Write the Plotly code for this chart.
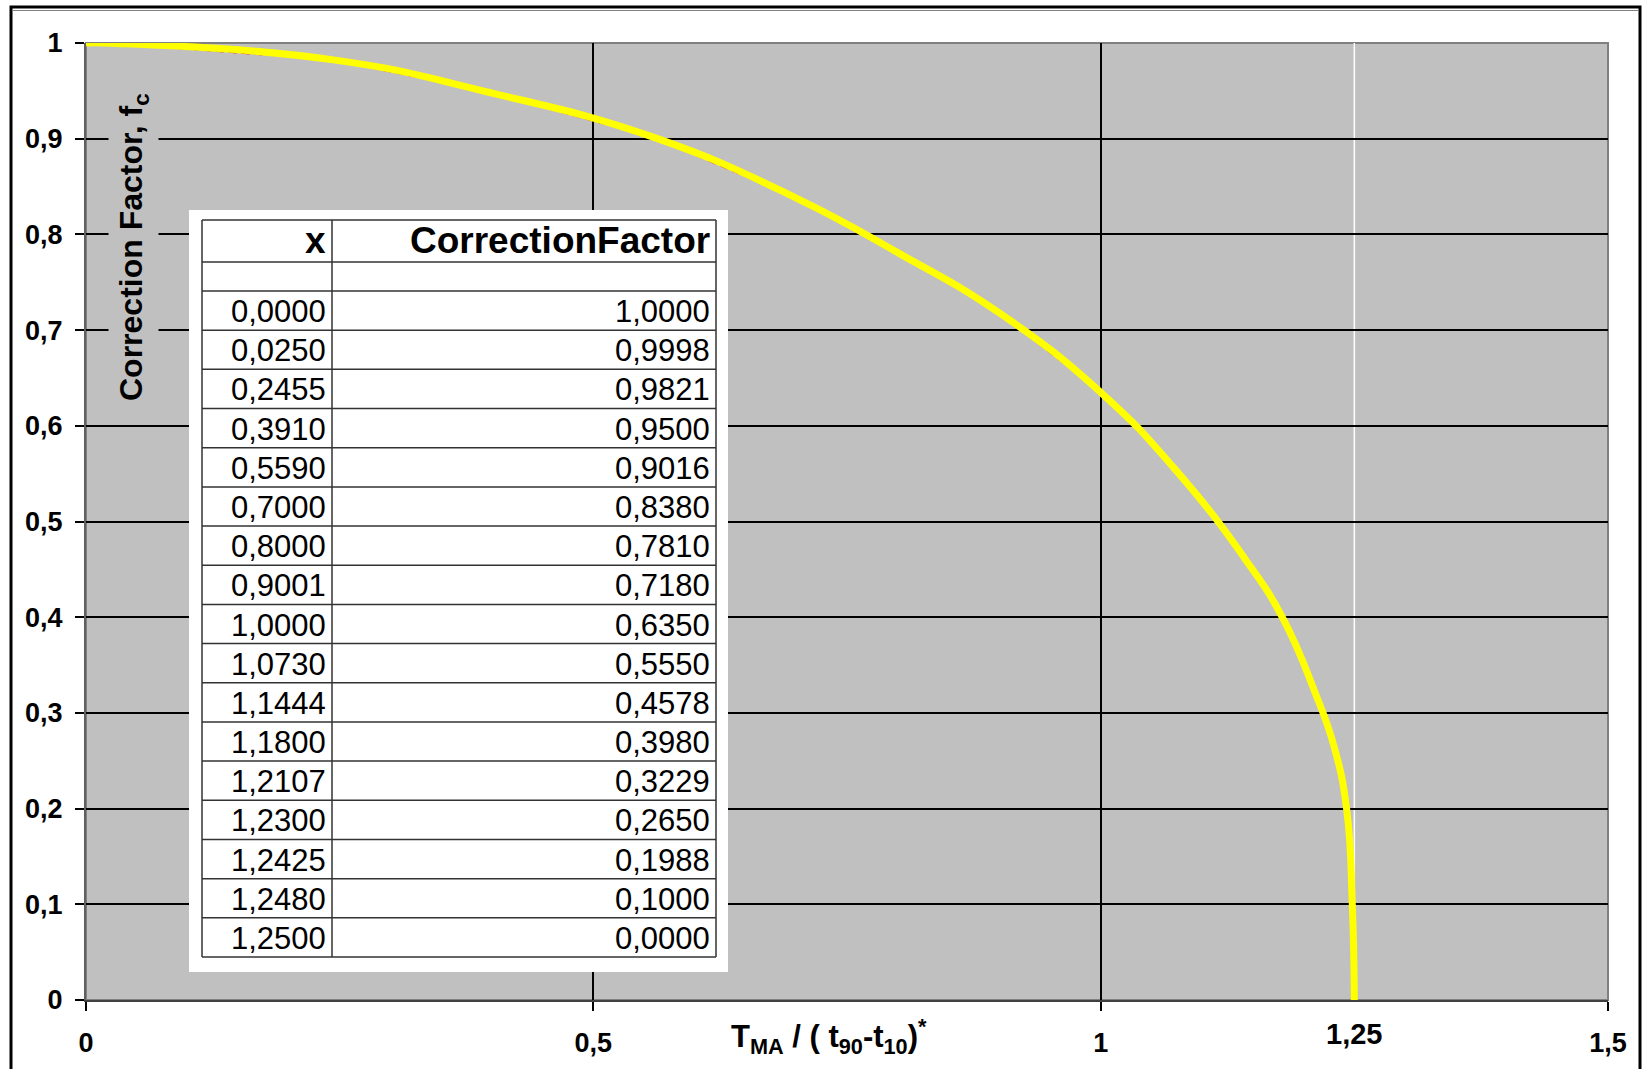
import plotly.graph_objects as go

# Correction factor table
x_vals = [0.0000, 0.0250, 0.2455, 0.3910, 0.5590, 0.7000, 0.8000, 0.9001, 1.0000,
          1.0730, 1.1444, 1.1800, 1.2107, 1.2300, 1.2425, 1.2480, 1.2500]
cf_vals = [1.0000, 0.9998, 0.9821, 0.9500, 0.9016, 0.8380, 0.7810, 0.7180, 0.6350,
           0.5550, 0.4578, 0.3980, 0.3229, 0.2650, 0.1988, 0.1000, 0.0000]

x_ticks = [0, 0.5, 1, 1.5]
y_ticks = [round(0.1 * i, 1) for i in range(11)]
table_header = ["x", "CorrectionFactor"]

# Page geometry (pixels)
W, H = 1643, 1069
L, R, T, B = 86, 1608, 43, 1000


def px(xp):
    return (xp - L) / (R - L)


def py(yp):
    return (B - yp) / (B - T)


def fmt(v):
    return f"{v:.4f}".replace(".", ",")


FONT = "Liberation Sans, Arial, sans-serif"

fig = go.Figure()

# straight segments between the tabulated points
fig.add_trace(go.Scatter(
    x=x_vals, y=cf_vals, mode="lines",
    line=dict(color="#FF0000", width=1.5, dash="8px,5px"),
    hoverinfo="skip", showlegend=False,
))
# smoothed curve
fig.add_trace(go.Scatter(
    x=x_vals, y=cf_vals, mode="lines",
    line=dict(color="#FFFF00", width=7, shape="spline", smoothing=1.3),
    hoverinfo="skip", showlegend=False,
))

shapes = []
annotations = []

# plot-area border (top/right grey)
shapes.append(dict(type="rect", xref="paper", yref="paper", x0=0, x1=1, y0=0, y1=1,
                   line=dict(color="#808080", width=2), layer="between"))
# white reference line at x = 1.25
shapes.append(dict(type="line", xref="x", yref="paper", x0=1.25, x1=1.25, y0=0, y1=1,
                   line=dict(color="#FFFFFF", width=1.5), layer="between"))

# outer chart frame
shapes.append(dict(type="rect", xref="paper", yref="paper",
                   x0=px(11), x1=px(1640), y0=py(1085), y1=py(7),
                   line=dict(color="#000000", width=3), layer="above"))
shapes.append(dict(type="line", xref="paper", yref="paper",
                   x0=px(12), x1=px(1638), y0=py(10.5), y1=py(10.5),
                   line=dict(color="#808080", width=1), layer="above"))

# data table box
box_l, box_r, box_t, box_b = 189, 728, 210, 972
col_x = [202, 332, 716]
head_top, head_bot, blank_bot, tab_bot = 220, 262, 291, 957
n_rows = len(x_vals)
row_h = (tab_bot - blank_bot) / n_rows

shapes.append(dict(type="rect", xref="paper", yref="paper",
                   x0=px(box_l), x1=px(box_r), y0=py(box_b), y1=py(box_t),
                   fillcolor="#FFFFFF", line=dict(width=0), layer="above"))

line_style = dict(color="#333333", width=1.5)
row_lines = [head_top, head_bot, blank_bot] + [blank_bot + row_h * (i + 1) for i in range(n_rows)]
for yl in row_lines:
    shapes.append(dict(type="line", xref="paper", yref="paper",
                       x0=px(col_x[0]), x1=px(col_x[-1]), y0=py(yl), y1=py(yl),
                       line=line_style, layer="above"))
for xl in col_x:
    shapes.append(dict(type="line", xref="paper", yref="paper",
                       x0=px(xl), x1=px(xl), y0=py(head_top), y1=py(tab_bot),
                       line=line_style, layer="above"))

# table header
for i, name in enumerate(table_header):
    annotations.append(dict(
        xref="paper", yref="paper", x=px(col_x[i + 1] - 4), y=py((head_top + head_bot) / 2),
        xanchor="right", yanchor="middle", showarrow=False, text=f"<b>{name}</b>",
        font=dict(family=FONT, size=37, color="#000000"),
    ))

# table body
for i, (xv, cv) in enumerate(zip(x_vals, cf_vals)):
    yc = blank_bot + row_h * (i + 0.5) + 1
    for j, v in enumerate((xv, cv)):
        annotations.append(dict(
            xref="paper", yref="paper", x=px(col_x[j + 1] - 4), y=py(yc),
            xanchor="right", yanchor="middle", showarrow=False, text=fmt(v),
            font=dict(family=FONT, size=31, color="#000000"),
        ))

# axis titles and the 1,25 marker label
annotations.append(dict(
    xref="paper", yref="paper", x=px(133), y=py(247), xanchor="center", yanchor="middle",
    textangle=-90, showarrow=False, text="<b>Correction Factor, f<sub>c</sub></b>",
    font=dict(family=FONT, size=32, color="#000000"), bgcolor="#C0C0C0", borderpad=4,
))
annotations.append(dict(
    xref="paper", yref="paper", x=px(829), y=py(1036), xanchor="center", yanchor="middle",
    showarrow=False,
    text="<b>T<sub>MA</sub> / ( t<sub>90</sub>-t<sub>10</sub>)<sup>*</sup></b>",
    font=dict(family=FONT, size=31, color="#000000"),
))
annotations.append(dict(
    xref="x", yref="paper", x=1.25, y=py(1034), xanchor="center", yanchor="middle",
    showarrow=False, text="<b>1,25</b>",
    font=dict(family=FONT, size=29, color="#000000"),
))

fig.update_layout(
    width=W, height=H,
    autosize=False,
    margin=dict(l=L, r=W - R, t=T, b=H - B, pad=0, autoexpand=False),
    paper_bgcolor="#FFFFFF",
    plot_bgcolor="#C0C0C0",
    separators=", ",
    showlegend=False,
    shapes=shapes,
    annotations=annotations,
    xaxis=dict(
        range=[0, 1.5], tickvals=x_ticks, ticks="outside", ticklen=9, tickwidth=1.5,
        tickcolor="#000000", showgrid=True, gridcolor="#000000", gridwidth=1.5,
        zeroline=False, showline=True, linecolor="#404040", linewidth=2,
        tickfont=dict(family=FONT, size=27, color="#000000", weight="bold"),
        ticklabelstandoff=9, fixedrange=True, automargin=False,
    ),
    yaxis=dict(
        range=[0, 1], tickvals=y_ticks, ticks="outside", ticklen=9, tickwidth=1.5,
        tickcolor="#000000", showgrid=True, gridcolor="#000000", gridwidth=1.5,
        zeroline=False, showline=True, linecolor="#606060", linewidth=2,
        tickfont=dict(family=FONT, size=27, color="#000000", weight="bold"),
        ticklabelstandoff=7, fixedrange=True, automargin=False,
    ),
)

fig.write_html("out.html")
